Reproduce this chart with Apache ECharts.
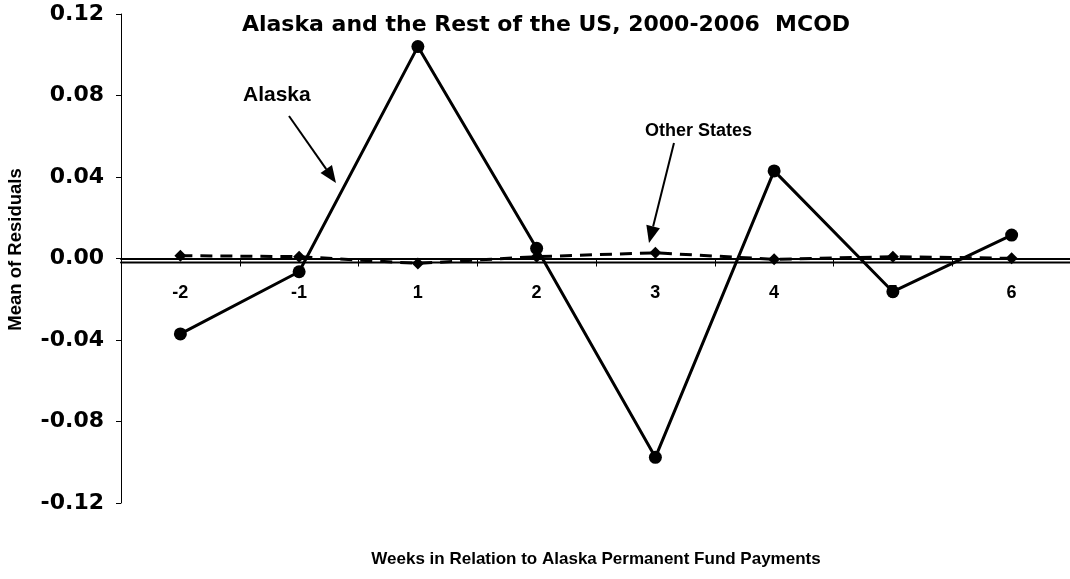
<!DOCTYPE html>
<html>
<head>
<meta charset="utf-8">
<script src="https://cdn.jsdelivr.net/npm/echarts@6/dist/echarts.min.js"></script>
<style>
  html, body { margin: 0; padding: 0; background: #fff; }
  #main { width: 1070px; height: 579px; }
</style>
</head>
<body>
<div id="main"></div>
<script>
var weeks = ['-2', '-1', '1', '2', '3', '4', '5', '6'];
var alaska = [-0.037, -0.0065, 0.104, 0.005, -0.0976, 0.043, -0.0163, 0.0115];
var otherStates = [0.0014, 0.0009, -0.0024, 0.0009, 0.0028, -0.0004, 0.0009, 0.0001];
var yTicks = [-0.12, -0.08, -0.04, 0, 0.04, 0.08, 0.12];

var font = 'Liberation Sans, Arial, sans-serif';
var wide = 'DejaVu Sans, Verdana, sans-serif';

// arrow for the annotations: line + filled head
function arrow(x1, y1, x2, y2) {
    var dx = x2 - x1, dy = y2 - y1;
    var len = Math.sqrt(dx * dx + dy * dy);
    var ux = dx / len, uy = dy / len;
    var hl = 17, hw = 7;
    var bx = x2 - ux * hl, by = y2 - uy * hl;
    return [
        { type: 'line', shape: { x1: x1, y1: y1, x2: bx, y2: by }, style: { stroke: '#000', lineWidth: 2 } },
        { type: 'polygon', shape: { points: [[x2, y2], [bx - uy * hw, by + ux * hw], [bx + uy * hw, by - ux * hw]] }, style: { fill: '#000' } }
    ];
}

var chartDom = document.getElementById('main');
var myChart = echarts.init(chartDom);
var option;

option = {
    animation: false,
    backgroundColor: '#fff',
    title: {
        text: 'Alaska and the Rest of the US, 2000-2006  MCOD',
        left: 541,
        textAlign: 'center',
        top: 9,
        textStyle: { fontFamily: wide, fontWeight: 'bold', fontSize: 22, color: '#000' }
    },
    grid: { left: 121, right: -1, top: 14, bottom: 76, containLabel: false, outerBoundsMode: 'none' },
    xAxis: {
        type: 'category',
        data: weeks,
        boundaryGap: true,
        name: 'Weeks in Relation to Alaska Permanent Fund Payments',
        nameLocation: 'middle',
        nameGap: 48,
        nameTextStyle: { fontFamily: font, fontWeight: 'bold', fontSize: 17, color: '#000' },
        axisLine: {
            onZero: true,
            lineStyle: { color: '#000', width: 2, shadowColor: '#000', shadowBlur: 0, shadowOffsetY: 3.5 }
        },
        axisTick: { show: true, length: 8, lineStyle: { color: '#000', width: 1 } },
        axisLabel: { margin: -219, fontFamily: font, fontWeight: 'bold', fontSize: 18, color: '#000' },
        splitLine: { show: false }
    },
    yAxis: {
        type: 'value',
        min: yTicks[0],
        max: yTicks[yTicks.length - 1],
        interval: 0.04,
        name: 'Mean of Residuals',
        nameLocation: 'middle',
        nameGap: 96,
        nameTextStyle: { fontFamily: font, fontWeight: 'bold', fontSize: 18.5, color: '#000', padding: [0, 0, 0, 18] },
        axisLine: { show: true, lineStyle: { color: '#000', width: 1 } },
        axisTick: { show: true, length: 5, lineStyle: { color: '#000' } },
        axisLabel: {
            margin: 17,
            fontFamily: wide, fontWeight: 'bold', fontSize: 22, color: '#000',
            formatter: function (v) { return v.toFixed(2); }
        },
        splitLine: { show: false }
    },
    series: [
        {
            name: 'Other States',
            type: 'line',
            data: otherStates,
            symbol: 'diamond',
            symbolSize: 12,
            lineStyle: { color: '#000', width: 3, type: [12, 8] },
            itemStyle: { color: '#000' },
            z: 3
        },
        {
            name: 'Alaska',
            type: 'line',
            data: alaska,
            symbol: 'circle',
            symbolSize: 13,
            lineStyle: { color: '#000', width: 3 },
            itemStyle: { color: '#000' },
            z: 4
        }
    ],
    graphic: [
        { type: 'text', left: 243, top: 85, style: { text: 'Alaska', font: 'bold 21px ' + font, fill: '#000' } },
        { type: 'text', left: 645, top: 122, style: { text: 'Other States', font: 'bold 18px ' + font, fill: '#000' } }
    ].concat(arrow(289, 116, 336, 183), arrow(674, 143, 649, 243))
};

option && myChart.setOption(option);
</script>
</body>
</html>
